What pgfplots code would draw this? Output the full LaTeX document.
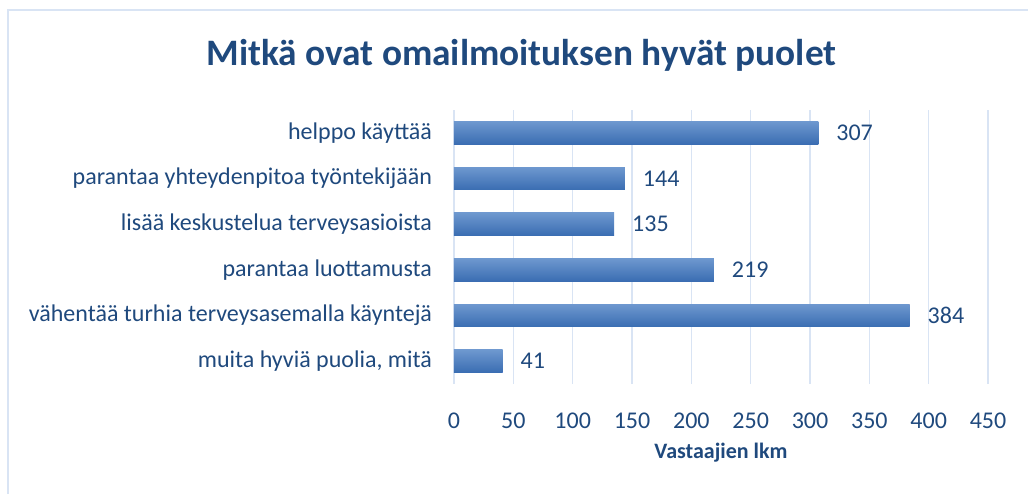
\documentclass[border=0pt]{standalone}
\usepackage{fontspec}
\setmainfont{Carlito}
\usepackage{pgfplots}
\pgfplotsset{compat=1.18}
\definecolor{dblue}{HTML}{1F497D}
\definecolor{gridc}{HTML}{D9E4F4}
\definecolor{bartop}{HTML}{6E98CF}
\definecolor{barbot}{HTML}{3A6DB2}
\begin{document}
\begin{tikzpicture}
\useasboundingbox (0,0) rectangle (771pt,370.5pt);
\draw[gridc, line width=1.5pt] (6pt,0) -- (6pt,363pt) -- (771pt,363pt);
\node[font=\fontsize{28}{32}\selectfont\bfseries, text=dblue] at (391pt,329.25pt) {Mitkä ovat omailmoituksen hyvät puolet};
\begin{axis}[
  at={(340.5pt,82.5pt)}, anchor=south west,
  scale only axis, width=400.5pt, height=205.5pt,
  xbar, bar width=0.5, bar shift=0pt,
  xmin=0, xmax=450, xtick={0,50,...,450},
  ymin=-0.5, ymax=5.5, ytick={0,...,5},
  yticklabels={{muita hyviä puolia, mitä}, {vähentää turhia terveysasemalla käyntejä}, {parantaa luottamusta}, {lisää keskustelua terveysasioista}, {parantaa yhteydenpitoa työntekijään}, {helppo käyttää}},
  axis line style={draw=none}, major tick length=0pt,
  xmajorgrids, grid style={gridc, line width=1.2pt},
  ticklabel style={font=\fontsize{18}{21}\selectfont, text=dblue},
  /pgf/number format/assume math mode=true,
  xticklabel style={yshift=-18pt},
  yticklabel style={xshift=-13pt},
  xlabel={Vastaajien lkm}, xlabel style={font=\fontsize{16.5}{19}\selectfont\bfseries, text=dblue, yshift=-4pt},
  nodes near coords, nodes near coords style={font=\fontsize{18}{21}\selectfont, text=dblue, anchor=west, xshift=10pt},
  every axis plot/.append style={draw=none, top color=bartop, bottom color=barbot},
]
\addplot coordinates {(41,0)};
\addplot coordinates {(384,1)};
\addplot coordinates {(219,2)};
\addplot coordinates {(135,3)};
\addplot coordinates {(144,4)};
\addplot coordinates {(307,5)};
\end{axis}
\end{tikzpicture}
\end{document}
